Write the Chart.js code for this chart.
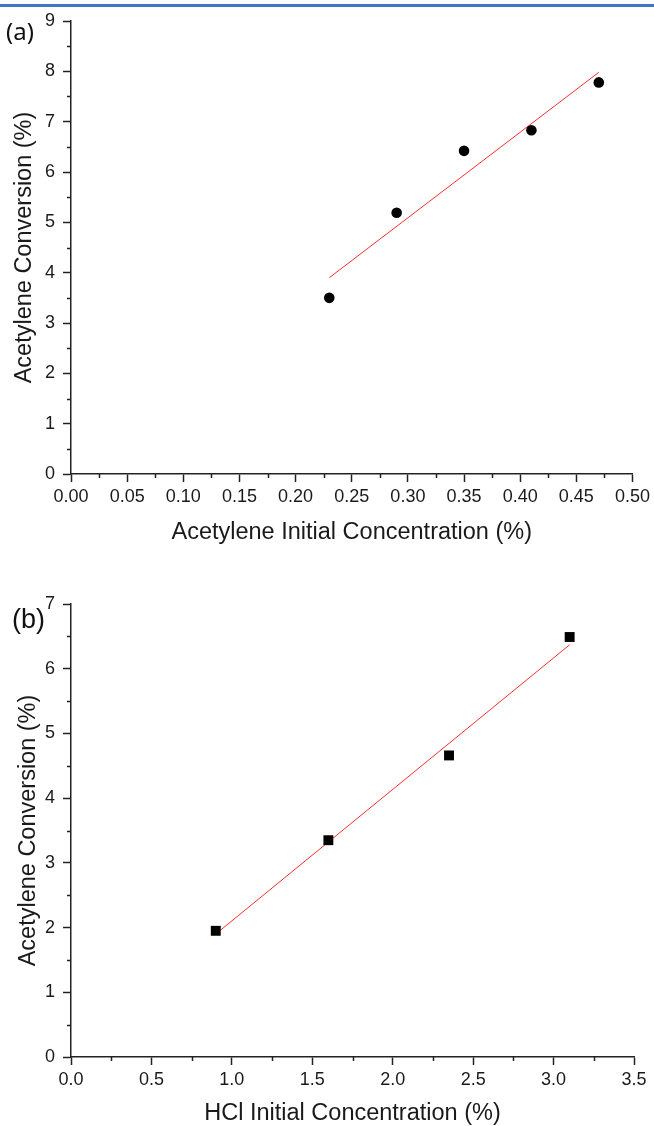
<!DOCTYPE html>
<html>
<head>
<meta charset="utf-8">
<script src="https://cdn.jsdelivr.net/npm/chart.js@4/dist/chart.umd.min.js"></script>
<style>
  html, body { margin: 0; padding: 0; background: #fff; overflow: hidden; }
  body { width: 654px; height: 1126px; position: relative; }
  .topline { position: absolute; left: 0; top: 4px; width: 654px; height: 3px; background: #4472c4; }
  .box { position: absolute; left: 0; width: 654px; }
  #boxA { top: 0; height: 560px; }
  #boxB { top: 560px; height: 600px; }
  .tag { position: absolute; color: #111; }
  #tagA { left: 6px; top: 19px; font: 24px "Noto Sans", sans-serif; line-height: 24px; }
  #tagB { left: 12px; top: 604px; font: 27px "Liberation Sans", Arial, sans-serif; line-height: 30px; }
</style>
</head>
<body>
<div class="topline"></div>
<div class="box" id="boxA"><canvas id="grafA"></canvas></div>
<div class="box" id="boxB"><canvas id="grafB"></canvas></div>
<div class="tag" id="tagA">(a)</div>
<div class="tag" id="tagB">(b)</div>
<script>
// (a) acetylene
const concAcet = [0.23, 0.29, 0.35, 0.41, 0.47];
const convA = [3.50, 5.19, 6.42, 6.83, 7.78];
const fitAx = [0.23, 0.47];
const fitAy = [3.90, 7.98];

// (b) HCl
const concHCl = [0.9, 1.6, 2.35, 3.1];
const convB = [1.95, 3.35, 4.66, 6.49];
const fitBx = [0.9, 3.1];
const fitBy = [1.90, 6.37];

const ejeColor = '#222';
const textColor = '#1a1a1a';

Chart.defaults.font.family = "'Liberation Sans', Arial, sans-serif";
Chart.defaults.color = textColor;

function pares(xs, ys) {
  return xs.map((x, i) => ({ x: x, y: ys[i] }));
}

// minor ticks between the major ones
const minorTicks = {
  id: 'minorTicks',
  afterDraw(chart, args, opts) {
    const ctx = chart.ctx;
    const sx = chart.scales.x, sy = chart.scales.y;
    ctx.save();
    ctx.strokeStyle = ejeColor;
    ctx.lineWidth = 1.5;
    ctx.beginPath();
    for (let i = 0; (i + 0.5) * opts.xStep < sx.max; i++) {
      const px = Math.round(sx.getPixelForValue((i + 0.5) * opts.xStep)) + 0.5;
      ctx.moveTo(px, sx.top);
      ctx.lineTo(px, sx.top + 4);
    }
    for (let i = 0; (i + 0.5) * opts.yStep < sy.max; i++) {
      const py = Math.round(sy.getPixelForValue((i + 0.5) * opts.yStep)) + 0.5;
      ctx.moveTo(sy.right, py);
      ctx.lineTo(sy.right - 4, py);
    }
    ctx.stroke();
    ctx.restore();
  }
};

function hacerGrafica(id, cfg) {
  const ctx = document.getElementById(id).getContext('2d');
  return new Chart(ctx, {
    type: 'scatter',
    data: {
      datasets: [
        {
          label: 'datos',
          data: pares(cfg.xs, cfg.ys),
          showLine: false,
          pointStyle: cfg.punto,
          pointRadius: cfg.radio,
          pointBackgroundColor: '#000',
          pointBorderColor: '#000',
          pointBorderWidth: 0
        },
        {
          label: 'ajuste',
          data: pares(cfg.fx, cfg.fy),
          showLine: true,
          pointRadius: 0,
          borderColor: 'rgb(255,45,45)',
          borderWidth: 1,
          fill: false
        }
      ]
    },
    options: {
      responsive: true,
      maintainAspectRatio: false,
      animation: false,
      events: [],
      layout: { padding: { left: 0, right: 20, top: cfg.padTop, bottom: 0 } },
      plugins: {
        legend: { display: false },
        tooltip: { enabled: false },
        minorTicks: { xStep: cfg.xStep, yStep: 1 }
      },
      scales: {
        x: {
          type: 'linear',
          min: 0,
          max: cfg.xMax,
          afterFit: (s) => { s.height = cfg.xAltura; },
          border: { display: true, color: ejeColor, width: 1.5 },
          grid: { drawOnChartArea: false, drawTicks: true, tickLength: 8, tickColor: ejeColor, tickWidth: 1.5 },
          ticks: {
            stepSize: cfg.xStep,
            autoSkip: false,
            maxRotation: 0,
            padding: 4,
            font: { size: 18 },
            color: textColor,
            callback: (v) => v.toFixed(cfg.dec)
          },
          title: {
            display: true,
            text: cfg.xTitulo,
            font: { size: 23.5 },
            color: textColor,
            padding: { top: 0, bottom: cfg.xTitPad }
          }
        },
        y: {
          type: 'linear',
          min: 0,
          max: cfg.yMax,
          afterFit: (s) => { s.width = 71; },
          border: { display: true, color: ejeColor, width: 1.5 },
          grid: { drawOnChartArea: false, drawTicks: true, tickLength: 8, tickColor: ejeColor, tickWidth: 1.5 },
          ticks: {
            stepSize: 1,
            padding: 8,
            font: { size: 18 },
            color: textColor
          },
          title: {
            display: true,
            text: 'Acetylene Conversion (%)',
            font: { size: 23.5 },
            color: textColor,
            padding: { top: cfg.yTitPad, bottom: 0 }
          }
        }
      }
    },
    plugins: [minorTicks]
  });
}

hacerGrafica('grafA', {
  xs: concAcet, ys: convA, fx: fitAx, fy: fitAy,
  punto: 'circle', radio: 5.3,
  xMax: 0.5, xStep: 0.05, dec: 2, yMax: 9,
  padTop: 21, xAltura: 86, xTitPad: 13, yTitPad: 10,
  xTitulo: 'Acetylene Initial Concentration (%)'
});

hacerGrafica('grafB', {
  xs: concHCl, ys: convB, fx: fitBx, fy: fitBy,
  punto: 'rect', radio: 7,
  xMax: 3.5, xStep: 0.5, dec: 1, yMax: 7,
  padTop: 44, xAltura: 103, xTitPad: 32, yTitPad: 14.6,
  xTitulo: 'HCl Initial Concentration (%)'
});
</script>
</body>
</html>
